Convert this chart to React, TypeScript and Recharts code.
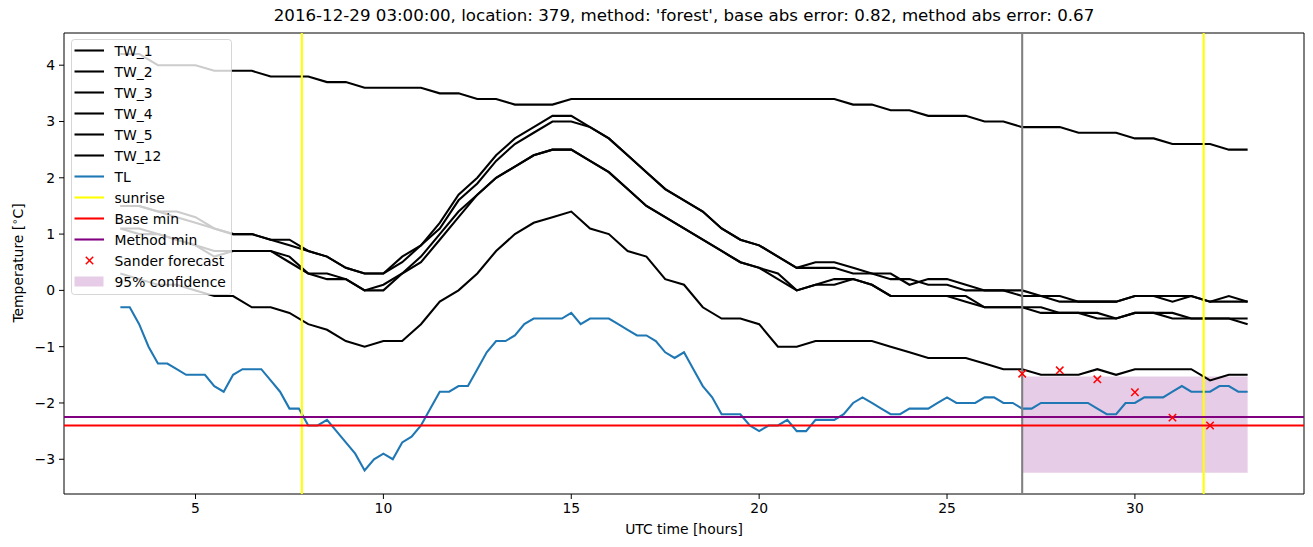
import { ComposedChart, Line, Scatter, XAxis, YAxis, ReferenceLine, ReferenceArea, Legend } from "recharts"

const FONT = "'DejaVu Sans', sans-serif"
const LW = 2.08

// half-hour grid for the TW sensors
const twHours = [
  3, 3.5, 4, 4.5, 5, 5.5, 6, 6.5, 7, 7.5, 8, 8.5, 9, 9.5, 10, 10.5, 11, 11.5, 12, 12.5,
  13, 13.5, 14, 14.5, 15, 15.5, 16, 16.5, 17, 17.5, 18, 18.5, 19, 19.5, 20, 20.5, 21, 21.5, 22, 22.5,
  23, 23.5, 24, 24.5, 25, 25.5, 26, 26.5, 27, 27.5, 28, 28.5, 29, 29.5, 30, 30.5, 31, 31.5, 32, 32.5, 33,
]

const tw1 = [
  4.2, 4.2, 4.0, 4.0, 4.0, 3.9, 3.9, 3.9, 3.8, 3.8, 3.8, 3.7, 3.7, 3.6, 3.6, 3.6, 3.6, 3.5, 3.5, 3.4,
  3.4, 3.3, 3.3, 3.3, 3.4, 3.4, 3.4, 3.4, 3.4, 3.4, 3.4, 3.4, 3.4, 3.4, 3.4, 3.4, 3.4, 3.4, 3.4, 3.3,
  3.3, 3.2, 3.2, 3.1, 3.1, 3.1, 3.0, 3.0, 2.9, 2.9, 2.9, 2.8, 2.8, 2.8, 2.7, 2.7, 2.6, 2.6, 2.6, 2.5, 2.5,
]
const tw2 = [
  1.5, 1.5, 1.4, 1.4, 1.3, 1.1, 1.0, 1.0, 0.9, 0.9, 0.7, 0.6, 0.4, 0.3, 0.3, 0.6, 0.8, 1.2, 1.7, 2.0,
  2.4, 2.7, 2.9, 3.1, 3.1, 2.9, 2.7, 2.4, 2.1, 1.8, 1.6, 1.4, 1.1, 0.9, 0.8, 0.6, 0.4, 0.5, 0.5, 0.4,
  0.3, 0.3, 0.1, 0.2, 0.2, 0.1, 0.0, 0.0, 0.0, -0.1, -0.2, -0.2, -0.2, -0.2, -0.1, -0.1, -0.1, -0.1, -0.2, -0.1, -0.2,
]
const tw3 = [
  1.5, 1.5, 1.4, 1.3, 1.2, 1.1, 1.0, 1.0, 0.9, 0.8, 0.7, 0.6, 0.4, 0.3, 0.3, 0.5, 0.8, 1.1, 1.6, 1.9,
  2.3, 2.6, 2.8, 3.0, 3.0, 2.9, 2.7, 2.4, 2.1, 1.8, 1.6, 1.4, 1.1, 0.9, 0.8, 0.6, 0.4, 0.4, 0.4, 0.3,
  0.3, 0.2, 0.2, 0.1, 0.1, 0.0, 0.0, 0.0, -0.1, -0.1, -0.1, -0.2, -0.2, -0.2, -0.1, -0.1, -0.2, -0.1, -0.2, -0.2, -0.2,
]
const tw4 = [
  1.1, 1.1, 1.0, 0.9, 0.8, 0.6, 0.7, 0.7, 0.7, 0.6, 0.3, 0.3, 0.2, 0.0, 0.1, 0.3, 0.6, 1.0, 1.4, 1.7,
  2.0, 2.2, 2.4, 2.5, 2.5, 2.3, 2.1, 1.8, 1.5, 1.3, 1.1, 0.9, 0.7, 0.5, 0.4, 0.2, 0.0, 0.1, 0.2, 0.2,
  0.1, -0.1, -0.1, -0.1, -0.1, -0.2, -0.3, -0.3, -0.3, -0.4, -0.4, -0.4, -0.4, -0.5, -0.4, -0.4, -0.4, -0.5, -0.5, -0.5, -0.6,
]
const tw5 = [
  1.1, 1.0, 1.0, 0.9, 0.8, 0.7, 0.7, 0.7, 0.7, 0.5, 0.3, 0.2, 0.2, 0.0, 0.0, 0.3, 0.5, 0.9, 1.3, 1.7,
  2.0, 2.2, 2.4, 2.5, 2.5, 2.3, 2.1, 1.8, 1.5, 1.3, 1.1, 0.9, 0.7, 0.5, 0.4, 0.3, 0.0, 0.1, 0.1, 0.2,
  0.1, -0.1, -0.1, -0.1, -0.1, -0.1, -0.3, -0.3, -0.3, -0.3, -0.4, -0.4, -0.5, -0.5, -0.4, -0.4, -0.5, -0.5, -0.5, -0.5, -0.5,
]
const tw12 = [
  0.3, 0.2, 0.1, 0.1, 0.0, -0.1, -0.1, -0.3, -0.3, -0.4, -0.6, -0.7, -0.9, -1.0, -0.9, -0.9, -0.6, -0.2, 0.0, 0.3,
  0.7, 1.0, 1.2, 1.3, 1.4, 1.1, 1.0, 0.7, 0.6, 0.2, 0.1, -0.3, -0.5, -0.5, -0.6, -1.0, -1.0, -0.9, -0.9, -0.9,
  -0.9, -1.0, -1.1, -1.2, -1.2, -1.2, -1.3, -1.4, -1.4, -1.5, -1.5, -1.5, -1.4, -1.5, -1.4, -1.4, -1.4, -1.4, -1.6, -1.5, -1.5,
]

// quarter-hour grid for the air temperature
const tlHours = [
  3, 3.25, 3.5, 3.75, 4, 4.25, 4.5, 4.75, 5, 5.25, 5.5, 5.75, 6, 6.25, 6.5, 6.75, 7, 7.25, 7.5, 7.75,
  8, 8.25, 8.5, 8.75, 9, 9.25, 9.5, 9.75, 10, 10.25, 10.5, 10.75, 11, 11.25, 11.5, 11.75, 12, 12.25, 12.5, 12.75,
  13, 13.25, 13.5, 13.75, 14, 14.25, 14.5, 14.75, 15, 15.25, 15.5, 15.75, 16, 16.25, 16.5, 16.75, 17, 17.25, 17.5, 17.75,
  18, 18.25, 18.5, 18.75, 19, 19.25, 19.5, 19.75, 20, 20.25, 20.5, 20.75, 21, 21.25, 21.5, 21.75, 22, 22.25, 22.5, 22.75,
  23, 23.25, 23.5, 23.75, 24, 24.25, 24.5, 24.75, 25, 25.25, 25.5, 25.75, 26, 26.25, 26.5, 26.75, 27, 27.25, 27.5, 27.75,
  28, 28.25, 28.5, 28.75, 29, 29.25, 29.5, 29.75, 30, 30.25, 30.5, 30.75, 31, 31.25, 31.5, 31.75, 32, 32.25, 32.5, 32.75, 33,
]
const tl = [
  -0.3, -0.3, -0.6, -1.0, -1.3, -1.3, -1.4, -1.5, -1.5, -1.5, -1.7, -1.8, -1.5, -1.4, -1.4, -1.4, -1.6, -1.8, -2.1, -2.1,
  -2.4, -2.4, -2.3, -2.5, -2.7, -2.9, -3.2, -3.0, -2.9, -3.0, -2.7, -2.6, -2.4, -2.1, -1.8, -1.8, -1.7, -1.7, -1.4, -1.1,
  -0.9, -0.9, -0.8, -0.6, -0.5, -0.5, -0.5, -0.5, -0.4, -0.6, -0.5, -0.5, -0.5, -0.6, -0.7, -0.8, -0.8, -0.9, -1.1, -1.2,
  -1.1, -1.4, -1.7, -1.9, -2.2, -2.2, -2.2, -2.4, -2.5, -2.4, -2.4, -2.3, -2.5, -2.5, -2.3, -2.3, -2.3, -2.2, -2.0, -1.9,
  -2.0, -2.1, -2.2, -2.2, -2.1, -2.1, -2.1, -2.0, -1.9, -2.0, -2.0, -2.0, -1.9, -1.9, -2.0, -2.0, -2.1, -2.1, -2.0, -2.0,
  -2.0, -2.0, -2.0, -2.0, -2.1, -2.2, -2.2, -2.0, -2.0, -1.9, -1.9, -1.9, -1.8, -1.7, -1.8, -1.8, -1.8, -1.7, -1.7, -1.8, -1.8,
]

const sanderHours = [27, 28, 29, 30, 31, 32]
const sanderValues = [-1.48, -1.42, -1.58, -1.81, -2.26, -2.4]

const sunriseHours = [7.83, 31.83]
const forecastHour = 27
const baseMin = -2.4
const methodMin = -2.25
const confidenceHours = [27, 33]
const confidenceRange = [-3.24, -1.53]

const xDomain = [1.5, 34.5]
const yDomain = [-3.617, 4.572]
const xTicks = [5, 10, 15, 20, 25, 30]
const yTicks = [-3, -2, -1, 0, 1, 2, 3, 4]

const TITLE = "2016-12-29 03:00:00, location: 379, method: 'forest', base abs error: 0.82, method abs error: 0.67"

const twSeries = [
  { name: "TW_1", values: tw1 },
  { name: "TW_2", values: tw2 },
  { name: "TW_3", values: tw3 },
  { name: "TW_4", values: tw4 },
  { name: "TW_5", values: tw5 },
  { name: "TW_12", values: tw12 },
]

const legendItems = [
  ...twSeries.map((s) => ({ label: s.name, kind: "line", color: "#000000" })),
  { label: "TL", kind: "line", color: "#1f77b4" },
  { label: "sunrise", kind: "line", color: "#ffff00" },
  { label: "Base min", kind: "line", color: "#ff0000" },
  { label: "Method min", kind: "line", color: "#800080" },
  { label: "Sander forecast", kind: "x", color: "#ff0000" },
  { label: "95% confidence", kind: "patch", color: "rgba(128,0,128,0.2)" },
]

const toPoints = (hours: number[], values: number[]) => hours.map((t, i) => ({ t, v: values[i] }))

const minus = (v: number) => String(v).replace("-", "\u2212")

function XMark(props: any) {
  const { cx, cy } = props
  if (cx == null || cy == null) return null
  const r = 3.7
  return (
    <g stroke="#ff0000" strokeWidth={1.5}>
      <line x1={cx - r} y1={cy - r} x2={cx + r} y2={cy + r} />
      <line x1={cx - r} y1={cy + r} x2={cx + r} y2={cy - r} />
    </g>
  )
}

function LegendBox() {
  return (
    <svg width={162} height={257} style={{ display: "block" }}>
      <rect x={0.5} y={0.5} width={160} height={255} rx={3} fill="rgba(255,255,255,0.8)" stroke="rgba(204,204,204,0.8)" />
      {legendItems.map((item, i) => {
        const cy = 11.5 + i * 21
        return (
          <g key={item.label}>
            {item.kind === "line" && <line x1={3.5} x2={33} y1={cy} y2={cy} stroke={item.color} strokeWidth={LW} />}
            {item.kind === "x" && <XMark cx={18.5} cy={cy} />}
            {item.kind === "patch" && <rect x={3.5} y={cy - 5} width={29} height={10} fill={item.color} />}
            <text x={43.5} y={cy + 5} fontSize={13.9} fontFamily={FONT} fill="#000">
              {item.label}
            </text>
          </g>
        )
      })}
    </svg>
  )
}

export default function App() {
  return (
    <div style={{ position: "absolute", left: 0, top: 0, width: 1313, height: 547, background: "#fff", fontFamily: FONT }}>
      <div style={{ position: "absolute", left: 0, top: 6, width: 1368, textAlign: "center", fontSize: 16.67, color: "#000", whiteSpace: "nowrap" }}>
        {TITLE}
      </div>
      <ComposedChart width={1313} height={547} margin={{ top: 33, right: 9, bottom: 23, left: 8 }}>
        <XAxis
          type="number"
          dataKey="t"
          domain={xDomain}
          ticks={xTicks}
          allowDataOverflow
          height={30}
          tickSize={5}
          tickMargin={4}
          axisLine={false}
          tickLine={{ stroke: "#000" }}
          tick={{ fill: "#000", fontSize: 13.9, fontFamily: FONT }}
          label={() => (
            <text x={684} y={534} textAnchor="middle" fontSize={13.9} fontFamily={FONT} fill="#000">
              UTC time [hours]
            </text>
          )}
        />
        <YAxis
          type="number"
          domain={yDomain}
          ticks={yTicks}
          allowDataOverflow
          width={56}
          tickSize={5}
          tickMargin={4}
          axisLine={false}
          tickLine={{ stroke: "#000" }}
          tickFormatter={minus}
          tick={{ fill: "#000", fontSize: 13.9, fontFamily: FONT }}
          label={() => (
            <text x={23} y={263} transform="rotate(-90 23 263)" textAnchor="middle" fontSize={13.9} fontFamily={FONT} fill="#000">
              Temperature [<tspan fontSize={10} dy={-5}>{"\u2218"}</tspan>
              <tspan dy={5}>C]</tspan>
            </text>
          )}
        />

        <ReferenceArea
          x1={confidenceHours[0]}
          x2={confidenceHours[1]}
          y1={confidenceRange[0]}
          y2={confidenceRange[1]}
          fill="#800080"
          fillOpacity={0.2}
          stroke="none"
        />

        {twSeries.map((s) => (
          <Line
            key={s.name}
            data={toPoints(twHours, s.values)}
            dataKey="v"
            type="linear"
            stroke="#000000"
            strokeWidth={LW}
            dot={false}
            activeDot={false}
            isAnimationActive={false}
          />
        ))}
        <Line
          data={toPoints(tlHours, tl)}
          dataKey="v"
          type="linear"
          stroke="#1f77b4"
          strokeWidth={LW}
          dot={false}
          activeDot={false}
          isAnimationActive={false}
        />

        {sunriseHours.map((h) => (
          <ReferenceLine key={h} x={h} stroke="#ffff00" strokeWidth={LW} />
        ))}
        <ReferenceLine x={forecastHour} stroke="#808080" strokeWidth={LW} />
        <ReferenceLine y={baseMin} stroke="#ff0000" strokeWidth={LW} />
        <ReferenceLine y={methodMin} stroke="#800080" strokeWidth={LW} />

        <Scatter data={toPoints(sanderHours, sanderValues)} dataKey="v" shape={XMark} isAnimationActive={false} />

        <ReferenceArea x1={xDomain[0]} x2={xDomain[1]} y1={yDomain[0]} y2={yDomain[1]} fill="none" stroke="#000" strokeWidth={1} />

        <Legend
          layout="vertical"
          align="center"
          verticalAlign="middle"
          content={() => <LegendBox />}
          wrapperStyle={{ left: 71, top: 39, width: 162, height: 257 }}
        />
      </ComposedChart>
    </div>
  )
}
